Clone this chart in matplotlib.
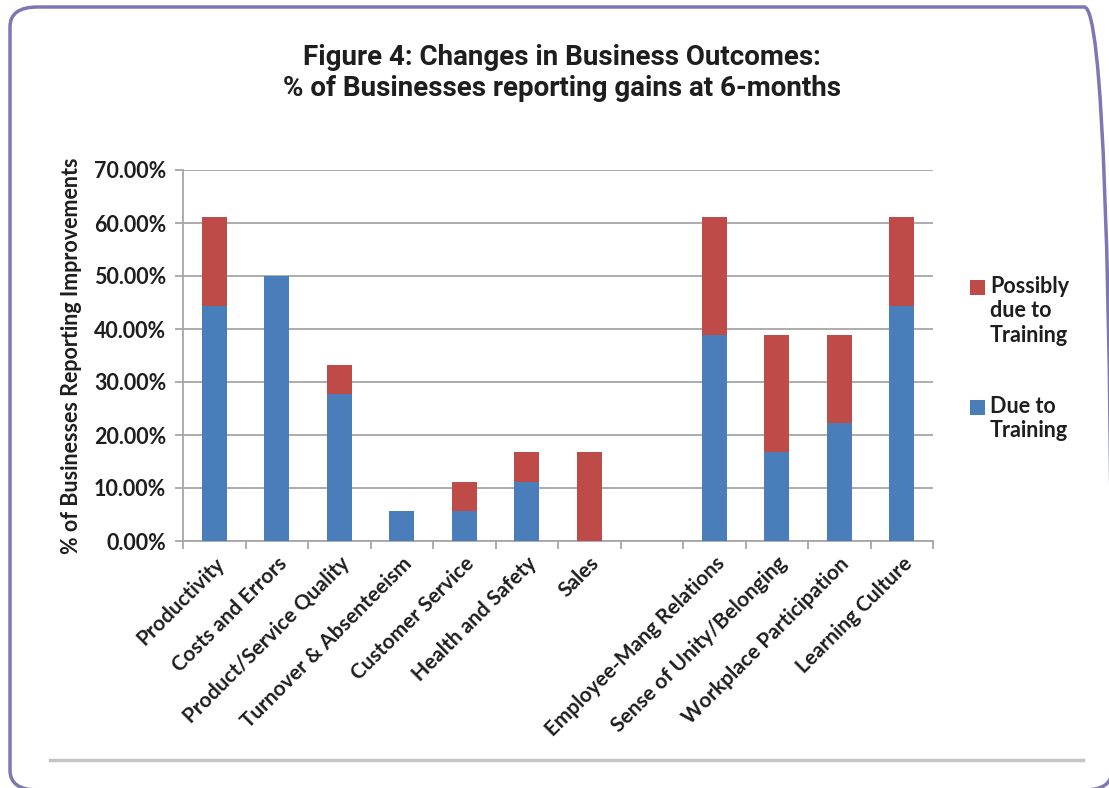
import matplotlib
matplotlib.use("Agg")
import matplotlib.pyplot as plt
from matplotlib.patches import FancyBboxPatch, Rectangle
from matplotlib.lines import Line2D
from matplotlib.ticker import FuncFormatter

categories = ["Productivity", "Costs and Errors", "Product/Service Quality",
              "Turnover & Absenteeism", "Customer Service", "Health and Safety",
              "Sales", "", "Employee-Mang Relations", "Sense of Unity/Belonging",
              "Workplace Participation", "Learning Culture"]
due_to_training = [44.4, 50.0, 27.8, 5.6, 5.6, 11.1, 0.0, 0.0, 38.9, 16.7, 22.2, 44.4]
possibly_due = [16.7, 0.0, 5.5, 0.0, 5.5, 5.6, 16.7, 0.0, 22.2, 22.2, 16.7, 16.7]
series_names = ["Due to\nTraining", "Possibly\ndue to\nTraining"]
y_ticks = [0, 10, 20, 30, 40, 50, 60, 70]

BLUE = "#4A7EBB"
RED = "#BE4B48"
GRID = "#A6A6A6"
TXT = "#1E1E1E"
FONT = "Lato"

W, H = 1109, 788
fig = plt.figure(figsize=(W / 100, H / 100), dpi=100)

# frame
frame = FancyBboxPatch((10 / W, 1 - 790 / H), (1112 - 10) / W, (790 - 7) / H,
                       boxstyle="round,pad=0,rounding_size=0.025",
                       transform=fig.transFigure, fill=False,
                       edgecolor="#7D77B4", linewidth=2.5, clip_on=False)
fig.patches.append(frame)
fig.add_artist(Line2D([50 / W, 1083 / W], [1 - 760 / H, 1 - 760 / H],
                      transform=fig.transFigure, color="#C4C4C4", linewidth=2.5))

fig.text(562 / W, 1 - 73 / H, "Figure 4: Changes in Business Outcomes:\n% of Businesses reporting gains at 6-months",
         ha="center", va="center", fontsize=20, fontweight="bold",
         family="Roboto", color=TXT, linespacing=1.15)

ax = fig.add_axes([183 / W, 1 - 541 / H, (933 - 183) / W, (541 - 170) / H])
x = list(range(len(categories)))
ax.bar(x, due_to_training, width=0.4, color=BLUE, zorder=3)
ax.bar(x, possibly_due, width=0.4, bottom=due_to_training, color=RED, zorder=3)

ax.set_xlim(-0.5, len(categories) - 0.5)
ax.set_ylim(0, 70)
ax.set_yticks(y_ticks)
ax.yaxis.set_major_formatter(FuncFormatter(lambda v, p: f"{v:.2f}%"))
ax.grid(axis="y", color=GRID, linewidth=1.3, zorder=0)
for s in ["top", "right"]:
    ax.spines[s].set_visible(False)
for s in ["left", "bottom"]:
    ax.spines[s].set_color(GRID)
    ax.spines[s].set_linewidth(1.3)

ax.set_xticks([i - 0.5 for i in range(len(categories) + 1)], minor=False)
ax.set_xticklabels([])
ax.set_xticks(x, minor=True)
ax.set_xticklabels(categories, minor=True, rotation=45, ha="right",
                   rotation_mode="anchor", fontsize=15, fontweight="bold",
                   family=FONT, color=TXT)
ax.tick_params(axis="x", which="major", length=6, color=GRID, width=1.3)
ax.tick_params(axis="x", which="minor", length=0, pad=9)
ax.tick_params(axis="y", length=6, color=GRID, width=1.3, pad=6)
for lab in ax.get_yticklabels():
    lab.set_fontsize(15.5)
    lab.set_fontweight("bold")
    lab.set_family(FONT)
    lab.set_color(TXT)

ax.set_ylabel("% of Businesses Reporting Improvements", fontsize=15.5,
              fontweight="bold", family=FONT, color=TXT, labelpad=9)

# legend (manual, square aligned with first line)
colors = [BLUE, RED]
ys = [407, 287]
for name, c, yy in zip(series_names, colors, ys):
    fig.patches.append(Rectangle((970 / W, 1 - (yy + 8) / H), 15 / W, 15 / H,
                                 transform=fig.transFigure, facecolor=c,
                                 edgecolor="none"))
    fig.text(990 / W, 1 - (yy - 11) / H, name, ha="left", va="top",
             fontsize=15.5, fontweight="bold", family=FONT, color=TXT,
             linespacing=1.2)

fig.savefig("out.png", dpi=100, facecolor="white")
